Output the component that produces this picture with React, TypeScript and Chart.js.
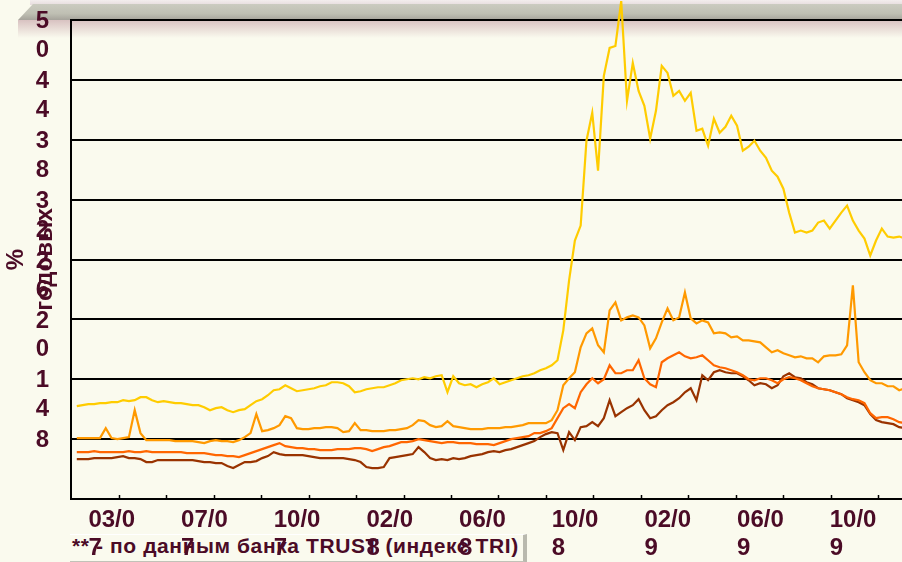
import React, { useEffect, useRef } from 'react';
import { Chart, registerables } from 'chart.js';

Chart.register(...registerables);

// ---------- data ----------
const tickLabels = ['03/07', '07/07', '10/07', '02/08', '06/08', '10/08', '02/09', '06/09', '10/09'];
const firstLabelIndex = 3;
const labelEvery = 16;
const pointCount = 145;
const minorTickStart = 8.29;
const minorTickStep = 8.19;

const categories: string[] = Array.from({ length: pointCount }, (_, i) => {
  const k = (i - firstLabelIndex) / labelEvery;
  return Number.isInteger(k) && k >= 0 && k < tickLabels.length ? tickLabels[k] : '';
});

const yTicks = { min: 2, max: 50, step: 6 };

const seriesGold = [null,
  11.3, 11.4, 11.5, 11.5, 11.6, 11.6, 11.7, 11.7, 11.9, 11.8,
  11.9, 12.2, 12.2, 11.9, 11.7, 11.8, 11.7, 11.6, 11.6, 11.5,
  11.4, 11.4, 11.2, 10.9, 11.1, 11.2, 10.9, 10.7, 10.9, 11.0,
  11.4, 11.8, 12.0, 12.4, 12.9, 13.0, 13.4, 13.1, 12.8, 12.9,
  13.0, 13.1, 13.3, 13.4, 13.7, 13.7, 13.6, 13.3, 12.7, 12.8,
  13.0, 13.1, 13.2, 13.2, 13.4, 13.6, 13.9, 14.0, 14.1, 14.0,
  14.2, 14.1, 14.3, 14.4, 12.7, 14.3, 13.6, 13.4, 13.5, 13.2,
  13.5, 13.7, 14.1, 13.5, 13.7, 13.9, 14.1, 14.3, 14.4, 14.6,
  14.9, 15.1, 15.4, 15.9, 18.9, 23.9, 27.9, 29.4, 37.9, 40.7,
  34.9, 44.4, 47.2, 47.4, 51.9, 41.9, 45.7, 42.9, 41.4, 38.1,
  40.9, 45.4, 44.7, 42.4, 42.9, 41.9, 42.7, 38.9, 39.1, 37.4,
  40.1, 38.7, 39.3, 40.4, 39.4, 36.9, 37.3, 37.9, 36.9, 36.2,
  34.9, 34.3, 33.1, 30.7, 28.7, 28.9, 28.7, 28.9, 29.7, 29.9,
  29.1, 29.9, 30.7, 31.4, 29.9, 28.9, 28.1, 26.4, 27.9, 29.1,
  28.3, 28.2, 28.3, 28.1];

const seriesOrange = [null,
  8.1, 8.1, 8.1, 8.1, 8.1, 9.1, 8.1, 8.0, 8.1, 8.2,
  10.9, 8.6, 7.9, 7.9, 7.9, 7.9, 7.9, 7.8, 7.8, 7.8,
  7.8, 7.7, 7.6, 7.8, 7.9, 7.8, 7.8, 7.7, 7.9, 8.2,
  8.6, 10.5, 8.8, 8.9, 9.1, 9.4, 10.3, 10.1, 9.1, 9.0,
  9.0, 9.1, 9.1, 9.2, 9.2, 9.1, 8.7, 8.8, 9.6, 8.9,
  8.9, 8.8, 8.8, 8.8, 8.9, 8.9, 9.0, 9.1, 9.4, 9.9,
  9.8, 9.4, 9.2, 9.3, 9.8, 9.3, 9.2, 9.1, 9.0, 9.0,
  9.0, 9.1, 9.1, 9.1, 9.2, 9.2, 9.3, 9.4, 9.6, 9.6,
  9.6, 9.6, 9.9, 10.9, 13.4, 14.1, 14.7, 17.2, 18.6, 19.1,
  17.4, 16.7, 20.9, 21.7, 19.9, 20.2, 20.4, 20.2, 19.4, 17.1,
  18.1, 19.7, 21.1, 19.9, 20.2, 22.7, 20.1, 19.6, 19.9, 19.7,
  18.6, 18.7, 18.6, 18.2, 18.3, 17.9, 17.9, 17.8, 17.7, 17.2,
  16.7, 16.9, 16.6, 16.4, 16.2, 16.3, 16.1, 16.1, 15.7, 16.3,
  16.4, 16.4, 16.5, 17.4, 23.4, 15.7, 14.7, 13.9, 13.6, 13.6,
  13.3, 13.3, 12.9, 13.1];

const seriesDarkOrange = [null,
  6.7, 6.7, 6.7, 6.8, 6.7, 6.7, 6.7, 6.7, 6.7, 6.8,
  6.7, 6.7, 6.8, 6.7, 6.7, 6.7, 6.7, 6.7, 6.7, 6.6,
  6.6, 6.6, 6.6, 6.5, 6.4, 6.4, 6.3, 6.3, 6.2, 6.4,
  6.6, 6.8, 7.0, 7.2, 7.4, 7.6, 7.3, 7.2, 7.1, 7.1,
  7.0, 7.0, 6.9, 6.9, 6.9, 7.0, 7.0, 7.0, 7.1, 7.1,
  7.0, 6.8, 7.0, 7.2, 7.3, 7.5, 7.7, 7.7, 7.8, 8.0,
  7.9, 7.8, 7.7, 7.6, 7.7, 7.7, 7.6, 7.6, 7.6, 7.5,
  7.5, 7.5, 7.4, 7.6, 7.8, 8.0, 8.1, 8.2, 8.3, 8.6,
  8.6, 8.8, 9.1, 10.1, 11.1, 11.5, 11.1, 12.7, 13.5, 14.1,
  13.6, 14.0, 15.4, 14.6, 14.6, 14.9, 14.9, 15.9, 14.1, 13.5,
  13.2, 15.7, 16.1, 16.4, 16.7, 16.3, 16.1, 16.2, 16.4, 15.9,
  15.4, 15.2, 15.1, 14.9, 14.7, 14.4, 14.0, 13.9, 14.1, 14.1,
  13.9, 13.6, 14.0, 14.2, 14.1, 13.9, 13.6, 13.3, 13.1, 13.0,
  12.9, 12.7, 12.5, 12.2, 12.0, 11.9, 11.6, 10.6, 10.1, 10.2,
  10.2, 10.0, 9.7, 9.6];

const seriesBrown = [null,
  6.0, 6.0, 6.0, 6.1, 6.1, 6.1, 6.1, 6.2, 6.3, 6.1,
  6.1, 6.0, 5.7, 5.7, 5.9, 5.9, 5.9, 5.9, 5.9, 5.9,
  5.9, 5.8, 5.7, 5.7, 5.6, 5.6, 5.3, 5.1, 5.4, 5.7,
  5.7, 5.8, 6.1, 6.3, 6.7, 6.5, 6.4, 6.4, 6.4, 6.4,
  6.3, 6.2, 6.1, 6.1, 6.1, 6.1, 6.1, 6.0, 5.9, 5.7,
  5.2, 5.1, 5.1, 5.2, 6.1, 6.2, 6.3, 6.4, 6.5, 7.2,
  6.7, 6.1, 5.9, 6.0, 5.9, 6.1, 6.0, 6.1, 6.3, 6.4,
  6.5, 6.7, 6.8, 6.7, 6.9, 7.0, 7.2, 7.4, 7.6, 7.8,
  8.2, 8.5, 8.7, 8.6, 6.9, 8.7, 7.9, 9.2, 9.3, 9.7,
  9.3, 10.1, 11.9, 10.3, 10.7, 11.1, 11.4, 12.0, 10.9, 10.1,
  10.3, 10.9, 11.4, 11.7, 12.1, 12.7, 13.1, 11.9, 14.4, 13.9,
  14.7, 14.9, 14.7, 14.6, 14.6, 14.3, 13.9, 13.4, 13.6, 13.5,
  13.1, 13.4, 14.3, 14.6, 14.2, 14.1, 13.7, 13.5, 13.1, 13.0,
  12.9, 12.7, 12.5, 12.1, 11.9, 11.7, 11.4, 10.5, 9.9, 9.7,
  9.6, 9.5, 9.2, 9.1];

const yTitle = ['%', 'годовых'];
const footnote = '** - по данным банка TRUST (индекс TRI)';

// ---------- style ----------
const FONT = "'Liberation Sans', Arial, sans-serif";
const TEXT = '#4b0b26';
const BG = '#fafaee';

const minorTicksPlugin = {
  id: 'minorTicks',
  afterDatasetsDraw(chart: any) {
    const xs = chart.scales.x;
    const { ctx, chartArea } = chart;
    ctx.save();
    ctx.strokeStyle = '#000';
    ctx.lineWidth = 1.5;
    for (let v = minorTickStart; v <= pointCount - 1; v += minorTickStep) {
      const px = Math.round(xs.getPixelForValue(v)) + 0.5;
      ctx.beginPath();
      ctx.moveTo(px, chartArea.bottom);
      ctx.lineTo(px, chartArea.bottom - 4);
      ctx.stroke();
    }
    ctx.restore();
  },
};

export default function App() {
  const ref = useRef<HTMLCanvasElement>(null);

  useEffect(() => {
    document.body.style.margin = '0';
    document.body.style.background = BG;
    const canvas = ref.current;
    if (!canvas) return;
    const mk = (label: string, data: any[], color: string) => ({
      label,
      data,
      borderColor: color,
      backgroundColor: color,
      borderWidth: 2.2,
      pointRadius: 0,
      tension: 0,
      clip: false as any,
    });
    const chart = new Chart(canvas, {
      type: 'line',
      data: {
        labels: categories,
        datasets: [
          mk('gold', seriesGold, '#FFCC00'),
          mk('orange', seriesOrange, '#FF9900'),
          mk('darkorange', seriesDarkOrange, '#FF6600'),
          mk('brown', seriesBrown, '#993300'),
        ],
      },
      options: {
        animation: false,
        responsive: false,
        events: [],
        layout: { padding: { top: 20, right: 1, left: 0, bottom: 0 } },
        plugins: { legend: { display: false }, tooltip: { enabled: false } },
        scales: {
          x: {
            type: 'category',
            offset: false,
            grid: { display: true, drawOnChartArea: false, drawTicks: false },
            border: { display: true, color: '#000', width: 2 },
            ticks: {
              autoSkip: false,
              maxRotation: 0,
              minRotation: 0,
              align: 'start',
              padding: 8,
              color: TEXT,
              font: { family: FONT, size: 24, weight: 'bold', lineHeight: 1.15 },
              callback: (_v: any, idx: number) => {
                const s = categories[idx];
                return s ? [s.slice(0, 4), s.slice(4)] : '';
              },
            },
            afterFit: (s: any) => {
              s.height = 63;
              s.paddingLeft = 0;
              s.paddingRight = 0;
            },
          },
          y: {
            min: yTicks.min,
            max: yTicks.max,
            grid: { color: '#000', lineWidth: 2, drawTicks: false },
            border: { display: true, color: '#000', width: 2 },
            title: {
              display: true,
              text: yTitle,
              color: TEXT,
              font: { family: FONT, size: 24, weight: 'bold', lineHeight: 1.2 },
              padding: { top: 2, bottom: 0 },
            },
            ticks: {
              autoSkip: false,
              stepSize: yTicks.step,
              padding: 22,
              labelOffset: 16,
              color: TEXT,
              font: { family: FONT, size: 24, weight: 'bold', lineHeight: 1.2 },
              callback: (v: any) => {
                if (v === yTicks.min) return '';
                const chars = String(v).split('');
                return chars.length === 1 ? [chars[0], ''] : chars;
              },
            },
            afterFit: (s: any) => {
              s.width = 71;
              s.paddingTop = 0;
              s.paddingBottom = 0;
            },
          },
        },
      } as any,
      plugins: [minorTicksPlugin],
    });
    return () => chart.destroy();
  }, []);

  return (
    <div style={{ position: 'fixed', left: 0, top: 0, width: 902, height: 562, overflow: 'hidden', background: BG }}>
      <div style={{ position: 'absolute', left: 30, top: 0, width: 872, height: 5, background: 'linear-gradient(to bottom, #f3eded, #e6dcdd)' }} />
      <div style={{ position: 'absolute', left: 18, top: 4, width: 884, height: 16, background: 'linear-gradient(to bottom, #cbcbc0 0%, #bfbfb3 60%, #a6a39b 100%)', clipPath: 'polygon(15px 0, 100% 0, 100% 100%, 0 100%)' }} />
      <div style={{ position: 'absolute', left: 18, top: 20, width: 884, height: 18, background: 'linear-gradient(to bottom, rgba(205,175,178,0.75), rgba(250,250,238,0))' }} />
      <div style={{ position: 'absolute', left: 70, top: 534, width: 453, height: 26, borderTop: '1px solid #ffffff', borderRight: '4px solid #b9b9ae', borderBottom: '2px solid #c2c2b8' }} />
      <div style={{ position: 'absolute', left: 72, top: 535, font: `bold 21px ${FONT}`, letterSpacing: '0.6px', lineHeight: '22px', color: TEXT, whiteSpace: 'nowrap' }}>{footnote}</div>
      <canvas ref={ref} width={906} height={562} style={{ position: 'absolute', left: 0, top: 0 }} />
    </div>
  );
}
